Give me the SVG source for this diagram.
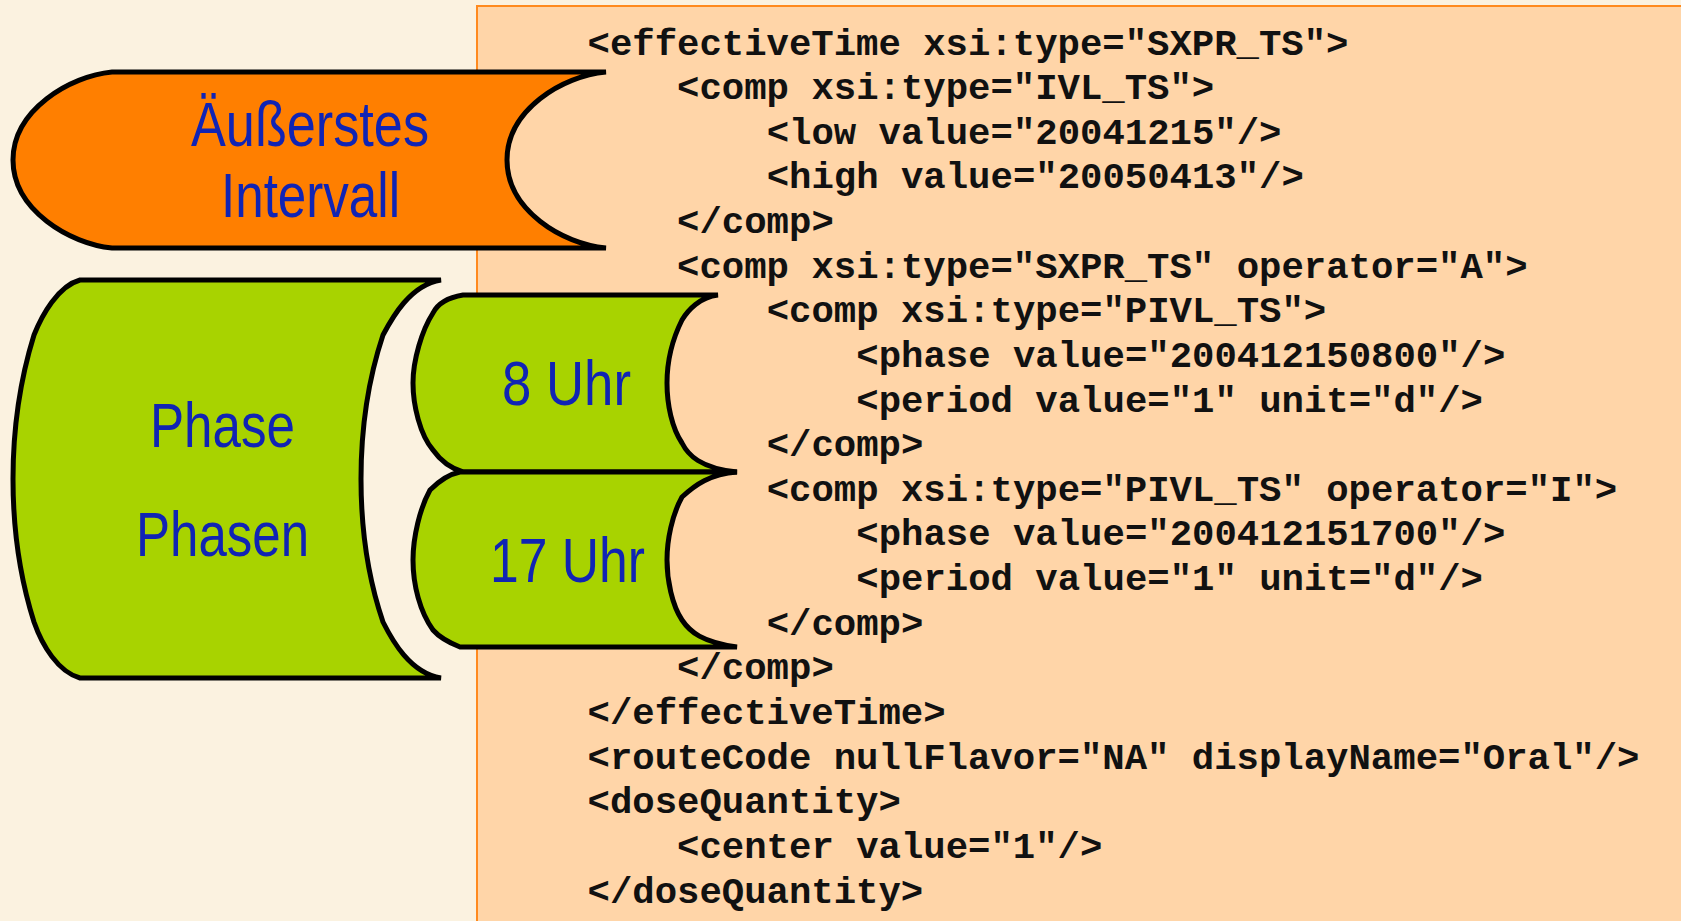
<svg xmlns="http://www.w3.org/2000/svg" width="1681" height="921" viewBox="0 0 1681 921">
<style>
.bg{fill:#FBF2E0}
.panel{fill:#FFD5A8;stroke:#FF8A1E;stroke-width:2}
.shape{stroke:#000;stroke-width:5;stroke-linejoin:miter;stroke-miterlimit:4}
.orange{fill:#FF7F00}
.green{fill:#A8D300}
.lbl{font-family:"Liberation Sans",Arial,sans-serif;font-size:63px;fill:#1024B4;text-anchor:start}
.code{font-family:"Liberation Mono","Courier New",monospace;font-weight:bold;font-size:37.3px;fill:#111}
</style>
<rect class="bg" x="0" y="0" width="1681" height="921"/>
<rect class="panel" x="477" y="6" width="1212" height="925"/>

<g id="code">
<text class="code" x="587.5" y="54.5">&lt;effectiveTime xsi:type="SXPR_TS"&gt;</text>
<text class="code" x="677.1" y="99.1">&lt;comp xsi:type="IVL_TS"&gt;</text>
<text class="code" x="766.7" y="143.8">&lt;low value="20041215"/&gt;</text>
<text class="code" x="766.7" y="188.4">&lt;high value="20050413"/&gt;</text>
<text class="code" x="677.1" y="233">&lt;/comp&gt;</text>
<text class="code" x="677.1" y="277.7">&lt;comp xsi:type="SXPR_TS" operator="A"&gt;</text>
<text class="code" x="766.7" y="322.3">&lt;comp xsi:type="PIVL_TS"&gt;</text>
<text class="code" x="856.3" y="366.9">&lt;phase value="200412150800"/&gt;</text>
<text class="code" x="856.3" y="411.5">&lt;period value="1" unit="d"/&gt;</text>
<text class="code" x="766.7" y="456.2">&lt;/comp&gt;</text>
<text class="code" x="766.7" y="500.8">&lt;comp xsi:type="PIVL_TS" operator="I"&gt;</text>
<text class="code" x="856.3" y="545.4">&lt;phase value="200412151700"/&gt;</text>
<text class="code" x="856.3" y="590.1">&lt;period value="1" unit="d"/&gt;</text>
<text class="code" x="766.7" y="634.7">&lt;/comp&gt;</text>
<text class="code" x="677.1" y="679.3">&lt;/comp&gt;</text>
<text class="code" x="587.5" y="724">&lt;/effectiveTime&gt;</text>
<text class="code" x="587.5" y="768.6">&lt;routeCode nullFlavor="NA" displayName="Oral"/&gt;</text>
<text class="code" x="587.5" y="813.2">&lt;doseQuantity&gt;</text>
<text class="code" x="677.1" y="857.8">&lt;center value="1"/&gt;</text>
<text class="code" x="587.5" y="902.5">&lt;/doseQuantity&gt;</text>
</g>

<g id="node-outer">
<path class="shape orange" d="M112,72 L606,72 C562,76 507,110 507,160 C507,210 562,244 606,248 L112,248 C70,244 13,210 13,160 C13,110 70,76 112,72 Z"/>
<text class="lbl" x="191" y="146" textLength="238" lengthAdjust="spacingAndGlyphs">Äußerstes</text>
<text class="lbl" x="221" y="217" textLength="179" lengthAdjust="spacingAndGlyphs">Intervall</text>
</g>

<g id="node-phase">
<path class="shape green" d="M80,280 L441,280 C410,285 392,318 383,335 C368,380 361,430 361,479 C361,528 368,578 383,622 C392,640 410,673 441,678 L80,678 C58,672 42,645 34,622 C20,578 13,528 13,479 C13,430 20,380 34,335 C42,315 58,286 80,280 Z"/>
<text class="lbl" x="150" y="447" textLength="145" lengthAdjust="spacingAndGlyphs">Phase</text>
<text class="lbl" x="136" y="556" textLength="173" lengthAdjust="spacingAndGlyphs">Phasen</text>
</g>

<g id="node-8uhr">
<path class="shape green" d="M463,295 L718,295 C700,297 688,310 682,320 C672,340 667,360 667,383 C667,405 672,428 682,443 C688,455 700,468 737,472 L463,472 C450,468 440,460 433,450 C420,435 413,405 413,383 C413,360 422,330 433,313 C437,305 445,298 463,295 Z"/>
<text class="lbl" x="502" y="405" textLength="129" lengthAdjust="spacingAndGlyphs">8 Uhr</text>
</g>

<g id="node-17uhr">
<path class="shape green" d="M460,472 L737,472 C710,474 695,485 682,497 C672,515 667,540 667,560 C667,580 672,605 682,620 C690,632 702,642 737,647 L460,647 C450,643 440,638 433,630 C420,612 413,585 413,560 C413,537 420,508 430,490 C440,480 450,474 460,472 Z"/>
<text class="lbl" x="490" y="582" textLength="155" lengthAdjust="spacingAndGlyphs">17 Uhr</text>
</g>

<g id="connectors"></g>
</svg>
